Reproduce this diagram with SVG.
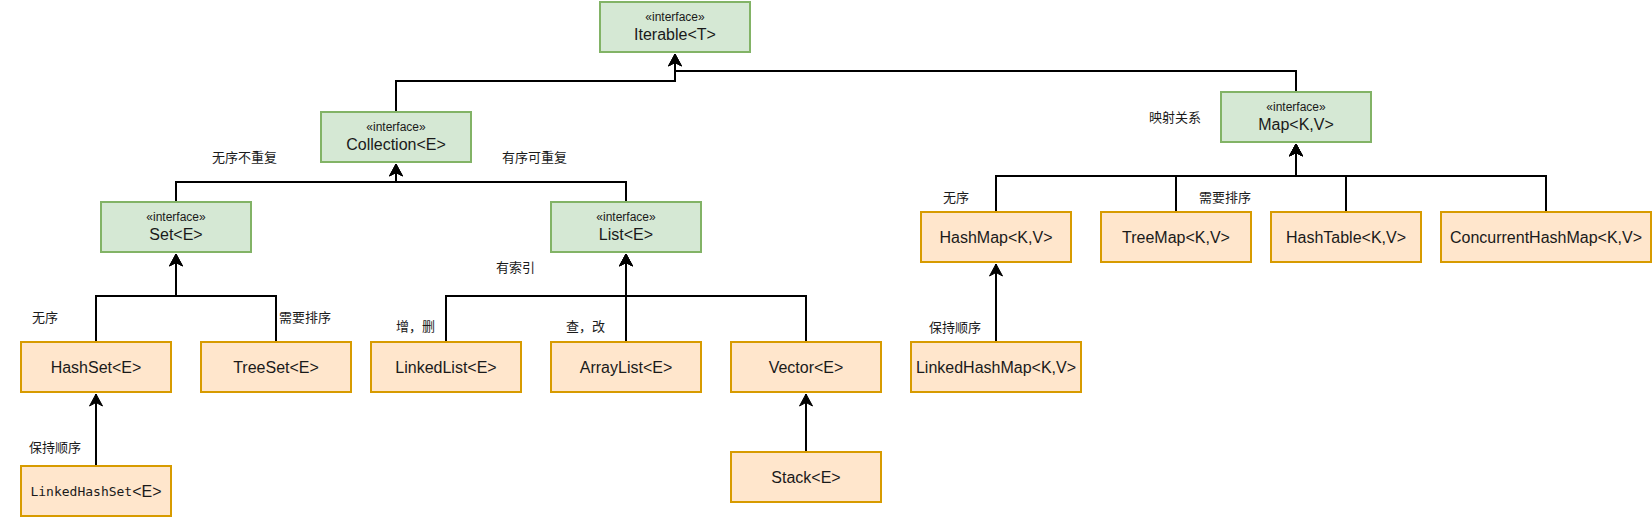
<svg xmlns="http://www.w3.org/2000/svg" width="1652" height="517" viewBox="0 0 1652 517">
<style>
.g{fill:#d5e8d4;stroke:#82b366;stroke-width:2}
.o{fill:#ffe6cc;stroke:#d79b00;stroke-width:2}
.t{font-family:"Liberation Sans",Arial,sans-serif;font-size:16px;fill:#1a1a1a;text-anchor:middle;dominant-baseline:central}
.s{font-family:"Liberation Sans",Arial,sans-serif;font-size:12px;fill:#1a1a1a;text-anchor:middle;dominant-baseline:central}
.m{font-family:"DejaVu Sans Mono","Liberation Mono",monospace;font-size:13px}
.l{font-family:"Liberation Sans","Noto Sans CJK SC",sans-serif;font-size:13px;fill:#1a1a1a;dominant-baseline:central}
.c{fill:none;stroke:#000;stroke-width:2;marker-end:url(#arr)}
</style>
<defs>
<marker id="arr" markerUnits="userSpaceOnUse" viewBox="-14 -8 15 16" refX="0" refY="0" markerWidth="15" markerHeight="16" orient="auto" overflow="visible">
<path d="M0,0 L-12,-6.5 L-8.5,0 L-12,6.5 Z" fill="#000" stroke="#000" stroke-width="1"/>
</marker>
</defs>
<g id="connectors">
<path class="c" d="M396,112 V81 H675 V54"/>
<path class="c" d="M1296,92 V71 H675 V54"/>
<path class="c" d="M176,202 V182 H396 V164"/>
<path class="c" d="M626,202 V182 H396 V164"/>
<path class="c" d="M96,342 V296 H176 V254"/>
<path class="c" d="M276,342 V296 H176 V254"/>
<path class="c" d="M96,466 V394"/>
<path class="c" d="M446,342 V296 H626 V254"/>
<path class="c" d="M626,342 V254"/>
<path class="c" d="M806,342 V296 H626 V254"/>
<path class="c" d="M806,452 V394"/>
<path class="c" d="M996,212 V176 H1296 V144"/>
<path class="c" d="M1176,212 V176 H1296 V144"/>
<path class="c" d="M1346,212 V176 H1296 V144"/>
<path class="c" d="M1546,212 V176 H1296 V144"/>
<path class="c" d="M996,342 V264"/>
</g>
<g id="iterable"><rect class="g" x="600" y="2" width="150" height="50"/><text class="s" x="675" y="17">«interface»</text><text class="t" x="675" y="34">Iterable&lt;T&gt;</text></g>
<g id="collection"><rect class="g" x="321" y="112" width="150" height="50"/><text class="s" x="396" y="127">«interface»</text><text class="t" x="396" y="144">Collection&lt;E&gt;</text></g>
<g id="set"><rect class="g" x="101" y="202" width="150" height="50"/><text class="s" x="176" y="217">«interface»</text><text class="t" x="176" y="234">Set&lt;E&gt;</text></g>
<g id="list"><rect class="g" x="551" y="202" width="150" height="50"/><text class="s" x="626" y="217">«interface»</text><text class="t" x="626" y="234">List&lt;E&gt;</text></g>
<g id="map"><rect class="g" x="1221" y="92" width="150" height="50"/><text class="s" x="1296" y="107">«interface»</text><text class="t" x="1296" y="124">Map&lt;K,V&gt;</text></g>
<g id="hashset"><rect class="o" x="21" y="342" width="150" height="50"/><text class="t" x="96" y="367">HashSet&lt;E&gt;</text></g>
<g id="treeset"><rect class="o" x="201" y="342" width="150" height="50"/><text class="t" x="276" y="367">TreeSet&lt;E&gt;</text></g>
<g id="linkedhashset"><rect class="o" x="21" y="466" width="150" height="50"/><text class="t" x="96" y="491"><tspan class="m">LinkedHashSet</tspan>&lt;E&gt;</text></g>
<g id="linkedlist"><rect class="o" x="371" y="342" width="150" height="50"/><text class="t" x="446" y="367">LinkedList&lt;E&gt;</text></g>
<g id="arraylist"><rect class="o" x="551" y="342" width="150" height="50"/><text class="t" x="626" y="367">ArrayList&lt;E&gt;</text></g>
<g id="vector"><rect class="o" x="731" y="342" width="150" height="50"/><text class="t" x="806" y="367">Vector&lt;E&gt;</text></g>
<g id="stack"><rect class="o" x="731" y="452" width="150" height="50"/><text class="t" x="806" y="477">Stack&lt;E&gt;</text></g>
<g id="hashmap"><rect class="o" x="921" y="212" width="150" height="50"/><text class="t" x="996" y="237">HashMap&lt;K,V&gt;</text></g>
<g id="treemap"><rect class="o" x="1101" y="212" width="150" height="50"/><text class="t" x="1176" y="237">TreeMap&lt;K,V&gt;</text></g>
<g id="hashtable"><rect class="o" x="1271" y="212" width="150" height="50"/><text class="t" x="1346" y="237">HashTable&lt;K,V&gt;</text></g>
<g id="concurrenthashmap"><rect class="o" x="1441" y="212" width="210" height="50"/><text class="t" x="1546" y="237">ConcurrentHashMap&lt;K,V&gt;</text></g>
<g id="linkedhashmap"><rect class="o" x="911" y="342" width="170" height="50"/><text class="t" x="996" y="367">LinkedHashMap&lt;K,V&gt;</text></g>
<g id="labels">
<text class="l" x="212" y="157">无序不重复</text>
<text class="l" x="502" y="157">有序可重复</text>
<text class="l" x="32" y="317">无序</text>
<text class="l" x="279" y="317">需要排序</text>
<text class="l" x="29" y="447">保持顺序</text>
<text class="l" x="496" y="267">有索引</text>
<text class="l" x="396" y="326">增，删</text>
<text class="l" x="566" y="326">查，改</text>
<text class="l" x="1149" y="117">映射关系</text>
<text class="l" x="943" y="197">无序</text>
<text class="l" x="1199" y="197">需要排序</text>
<text class="l" x="929" y="327">保持顺序</text>
</g>
</svg>
